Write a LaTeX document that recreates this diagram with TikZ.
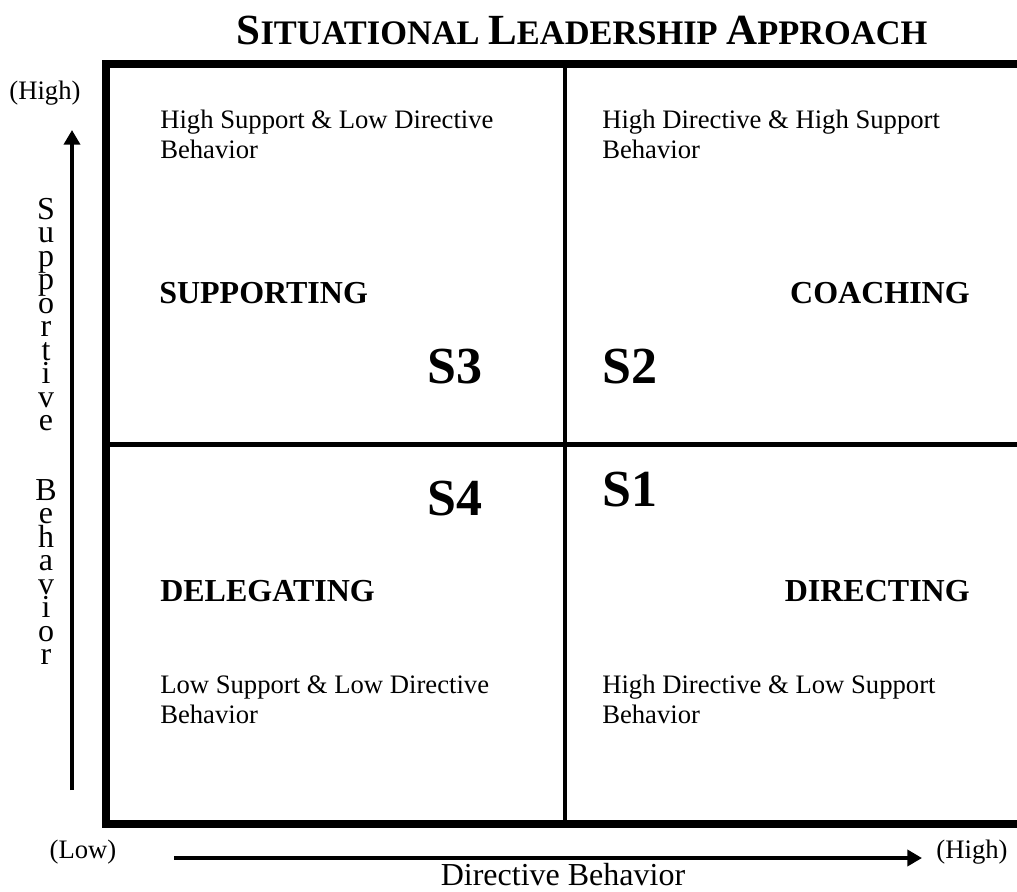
\documentclass[tikz,border=0pt]{standalone}
\usepackage{fontspec}
\setmainfont{Liberation Serif}
\usetikzlibrary{arrows.meta}
\newcommand{\titlecap}[1]{{\fontsize{32.25pt}{36pt}\selectfont #1}}

\begin{document}
\begin{tikzpicture}[x=0.75pt, y=-0.75pt,
    quadtext/.style={font=\fontsize{20pt}{22.5pt}\selectfont, align=left, anchor=base west, inner sep=0pt},
    heading/.style={font=\bfseries\fontsize{24pt}{28pt}\selectfont, inner sep=0pt},
    stylelabel/.style={font=\bfseries\fontsize{39pt}{44pt}\selectfont, inner sep=0pt},
    axislabel/.style={font=\fontsize{20pt}{24pt}\selectfont, anchor=base, inner sep=0pt},
    vletter/.style={font=\fontsize{24pt}{24pt}\selectfont, anchor=base, inner sep=0pt,
      text height=1.2ex, text depth=0.1ex},
    axis/.style={-{Triangle[length=11pt, width=12pt]}, line width=3.5pt},
    divider/.style={line width=3.4pt}]

  \clip (0,0) rectangle (1017,892);

  % Title
  \node[font=\bfseries\fontsize{25.8pt}{30pt}\selectfont, anchor=base, inner sep=0pt] (title) at (582,45)
    {\titlecap{S}ITUATIONAL \titlecap{L}EADERSHIP \titlecap{A}PPROACH};

  % Frame and quadrant dividers
  \draw[line width=6pt] (106,64) rectangle (1040,824);
  \draw[divider] (565,64) -- (565,824);
  \draw[divider] (106,444.5) -- (1040,444.5);

  % Quadrant descriptions (anchored on the last line)
  \node[quadtext] (desc3) at (160,158) {High Support \& Low Directive\\Behavior};
  \node[quadtext] (desc2) at (602,158) {High Directive \& High Support\\Behavior};
  \node[quadtext] (desc4) at (160,723) {Low Support \& Low Directive\\Behavior};
  \node[quadtext] (desc1) at (602,723) {High Directive \& Low Support\\Behavior};

  % Style names
  \node[heading, anchor=base west] (supporting) at (159,303) {SUPPORTING};
  \node[heading, anchor=base east] (coaching) at (970,303) {COACHING};
  \node[heading, anchor=base west] (delegating) at (160,601) {DELEGATING};
  \node[heading, anchor=base east] (directing) at (970,601) {DIRECTING};

  % S1--S4
  \node[stylelabel, anchor=base east] (s3) at (483,383) {S3};
  \node[stylelabel, anchor=base west] (s2) at (602,383) {S2};
  \node[stylelabel, anchor=base east] (s4) at (483,515) {S4};
  \node[stylelabel, anchor=base west] (s1) at (602,506) {S1};

  % Vertical axis
  \coordinate (ylow) at (72,790);
  \coordinate (yhigh) at (72,130);
  \draw[axis] (ylow) -- (yhigh);
  \node[axislabel] (yhightext) at (45,99) {(High)};
  \foreach \ch [count=\i from 0] in {S,u,p,p,o,r,t,i,v,e}
    \node[vletter] (sup\i) at (46,219+\i*23.5) {\ch};
  \foreach \ch [count=\i from 12] in {B,e,h,a,v,i,o,r}
    \node[vletter] (beh\i) at (46,218+\i*23.5) {\ch};

  % Horizontal axis
  \coordinate (xlow) at (174,858);
  \coordinate (xhigh) at (922,858);
  \draw[axis] (xlow) -- (xhigh);
  \node[axislabel] (xlowtext) at (83,858) {(Low)};
  \node[axislabel] (xhightext) at (972,858) {(High)};
  \node[font=\fontsize{24pt}{28pt}\selectfont, anchor=base, inner sep=0pt] (xname) at (563,885) {Directive Behavior};
\end{tikzpicture}
\end{document}
